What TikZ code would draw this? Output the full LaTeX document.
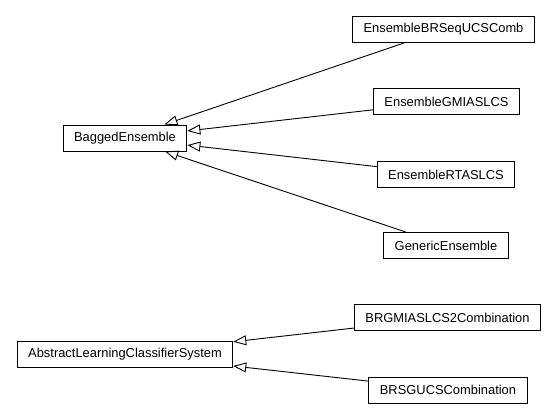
\documentclass[tikz,border=0pt]{standalone}
\usepackage{fontspec}
\setmainfont{Liberation Sans}
\usetikzlibrary{arrows.meta}

\begin{document}
\begin{tikzpicture}[x=1pt, y=-1pt,
    every node/.style={font=\fontsize{12.9}{15}\selectfont},
    cls/.style={draw, line width=0.9pt, fill=white, inner xsep=11pt, minimum height=26pt, inner ysep=0pt},
    inherit/.style={-{Triangle[open, length=13pt, width=10pt]}, line width=0.9pt}]
  \useasboundingbox (0,0) rectangle (557,419);
  % base classes
  \node[cls] (bagged) at (125,138) {BaggedEnsemble};
  \node[cls] (alcs) at (125,354) {AbstractLearningClassifierSystem};
  % derived classes
  \node[cls] (brseq) at (443.5,29.5) {EnsembleBRSeqUCSComb};
  \node[cls] (gmias) at (446.5,101.5) {EnsembleGMIASLCS};
  \node[cls] (rtas) at (446,174.5) {EnsembleRTASLCS};
  \node[cls] (generic) at (446,245.5) {GenericEnsemble};
  \node[cls] (brgmias) at (447.5,317.5) {BRGMIASLCS2Combination};
  \node[cls] (brsgucs) at (448,390) {BRSGUCSCombination};
  % inheritance
  \draw[inherit] (brseq) -- (bagged);
  \draw[inherit] (gmias) -- (bagged);
  \draw[inherit] (rtas) -- (bagged);
  \draw[inherit] (generic) -- (bagged);
  \draw[inherit] (brgmias) -- (alcs);
  \draw[inherit] (brsgucs) -- (alcs);
\end{tikzpicture}
\end{document}
